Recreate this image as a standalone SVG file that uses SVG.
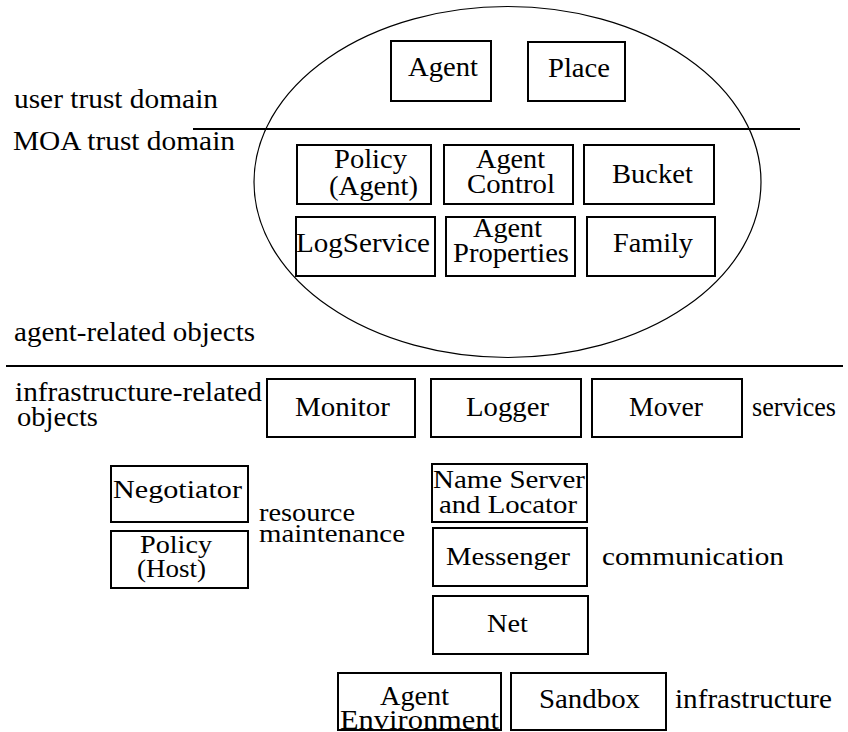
<svg xmlns="http://www.w3.org/2000/svg" width="848" height="732" viewBox="0 0 848 732" font-family="'Liberation Serif', 'Times New Roman', Times, serif">
  <style>
    .box { fill: #ffffff; stroke: #000000; stroke-width: 2; }
    .rule { stroke: #000000; stroke-width: 2; fill: none; }
    .domain { fill: none; stroke: #000000; stroke-width: 1.2; }
    text { fill: #000000; }
    .t { font-size: 27px; }
    .s { font-size: 25px; }
  </style>

  <rect width="848" height="732" fill="#ffffff"/>

  <!-- trust-domain ellipse and section rules -->
  <g id="domains">
    <ellipse class="domain" cx="507.5" cy="182" rx="253.5" ry="175.5"/>
    <line class="rule" x1="193" y1="129" x2="800" y2="129"/>
    <line class="rule" x1="6" y1="366" x2="843" y2="366"/>
  </g>

  <!-- section captions -->
  <g id="captions">
    <text class="t" x="14" y="108" textLength="204" lengthAdjust="spacingAndGlyphs">user trust domain</text>
    <text class="t" x="13" y="150" textLength="222" lengthAdjust="spacingAndGlyphs">MOA trust domain</text>
    <text class="t" x="14" y="341" textLength="241" lengthAdjust="spacingAndGlyphs">agent-related objects</text>
    <text class="t" x="15" y="401" textLength="247" lengthAdjust="spacingAndGlyphs">infrastructure-related</text>
    <text class="t" x="17" y="426" textLength="81" lengthAdjust="spacingAndGlyphs">objects</text>
    <text class="t" x="752" y="416" textLength="84" lengthAdjust="spacingAndGlyphs">services</text>
    <text class="s" x="259" y="521" textLength="96" lengthAdjust="spacingAndGlyphs">resource</text>
    <text class="s" x="259" y="542" textLength="146" lengthAdjust="spacingAndGlyphs">maintenance</text>
    <text class="s" x="602" y="565" textLength="182" lengthAdjust="spacingAndGlyphs">communication</text>
    <text class="t" x="675" y="708" textLength="157" lengthAdjust="spacingAndGlyphs">infrastructure</text>
  </g>

  <!-- user trust domain -->
  <g id="agent">
    <rect class="box" x="391" y="41" width="100" height="60"/>
    <text class="t" x="408" y="76" textLength="70" lengthAdjust="spacingAndGlyphs">Agent</text>
  </g>
  <g id="place">
    <rect class="box" x="528" y="42" width="97" height="59"/>
    <text class="t" x="548" y="77" textLength="62" lengthAdjust="spacingAndGlyphs">Place</text>
  </g>

  <!-- MOA trust domain -->
  <g id="policy-agent">
    <rect class="box" x="297" y="145" width="134" height="59"/>
    <text class="t" x="334" y="168" textLength="73" lengthAdjust="spacingAndGlyphs">Policy</text>
    <text class="t" x="329" y="195" textLength="89" lengthAdjust="spacingAndGlyphs">(Agent)</text>
  </g>
  <g id="agent-control">
    <rect class="box" x="444" y="145" width="129" height="59"/>
    <text class="t" x="476" y="168" textLength="69" lengthAdjust="spacingAndGlyphs">Agent</text>
    <text class="t" x="467" y="193" textLength="88" lengthAdjust="spacingAndGlyphs">Control</text>
  </g>
  <g id="bucket">
    <rect class="box" x="584" y="145" width="130" height="59"/>
    <text class="t" x="612" y="183" textLength="81" lengthAdjust="spacingAndGlyphs">Bucket</text>
  </g>
  <g id="logservice">
    <rect class="box" x="296" y="217" width="139" height="59"/>
    <text class="t" x="296" y="252" textLength="134" lengthAdjust="spacingAndGlyphs">LogService</text>
  </g>
  <g id="agent-properties">
    <rect class="box" x="446" y="217" width="129" height="59"/>
    <text class="t" x="473" y="237" textLength="69" lengthAdjust="spacingAndGlyphs">Agent</text>
    <text class="t" x="453" y="262" textLength="116" lengthAdjust="spacingAndGlyphs">Properties</text>
  </g>
  <g id="family">
    <rect class="box" x="587" y="217" width="128" height="59"/>
    <text class="t" x="613" y="252" textLength="80" lengthAdjust="spacingAndGlyphs">Family</text>
  </g>

  <!-- services -->
  <g id="monitor">
    <rect class="box" x="267" y="379" width="148" height="58"/>
    <text class="t" x="295" y="416" textLength="95" lengthAdjust="spacingAndGlyphs">Monitor</text>
  </g>
  <g id="logger">
    <rect class="box" x="431" y="379" width="150" height="58"/>
    <text class="t" x="466" y="416" textLength="83" lengthAdjust="spacingAndGlyphs">Logger</text>
  </g>
  <g id="mover">
    <rect class="box" x="592" y="379" width="150" height="58"/>
    <text class="t" x="629" y="416" textLength="74" lengthAdjust="spacingAndGlyphs">Mover</text>
  </g>

  <!-- resource maintenance -->
  <g id="negotiator">
    <rect class="box" x="111" y="466" width="137" height="56"/>
    <text class="s" x="113" y="498" textLength="129" lengthAdjust="spacingAndGlyphs">Negotiator</text>
  </g>
  <g id="policy-host">
    <rect class="box" x="111" y="531" width="137" height="57"/>
    <text class="s" x="140" y="553" textLength="72" lengthAdjust="spacingAndGlyphs">Policy</text>
    <text class="s" x="137" y="577" textLength="69" lengthAdjust="spacingAndGlyphs">(Host)</text>
  </g>

  <!-- communication -->
  <g id="name-server">
    <rect class="box" x="432" y="464" width="155" height="58"/>
    <text class="s" x="433" y="488" textLength="152" lengthAdjust="spacingAndGlyphs">Name Server</text>
    <text class="s" x="439" y="513" textLength="138" lengthAdjust="spacingAndGlyphs">and Locator</text>
  </g>
  <g id="messenger">
    <rect class="box" x="433" y="528" width="154" height="58"/>
    <text class="s" x="446" y="565" textLength="124" lengthAdjust="spacingAndGlyphs">Messenger</text>
  </g>
  <g id="net">
    <rect class="box" x="433" y="596" width="155" height="58"/>
    <text class="s" x="487" y="632" textLength="41" lengthAdjust="spacingAndGlyphs">Net</text>
  </g>

  <!-- infrastructure -->
  <g id="agent-environment">
    <rect class="box" x="338" y="673" width="163" height="57"/>
    <text class="t" x="380" y="705" textLength="69" lengthAdjust="spacingAndGlyphs">Agent</text>
    <text class="t" x="340" y="729" textLength="159" lengthAdjust="spacingAndGlyphs">Environment</text>
  </g>
  <g id="sandbox">
    <rect class="box" x="511" y="673" width="155" height="57"/>
    <text class="t" x="539" y="708" textLength="101" lengthAdjust="spacingAndGlyphs">Sandbox</text>
  </g>

  <!-- no connectors in this figure -->
  <g id="connectors"/>
</svg>
